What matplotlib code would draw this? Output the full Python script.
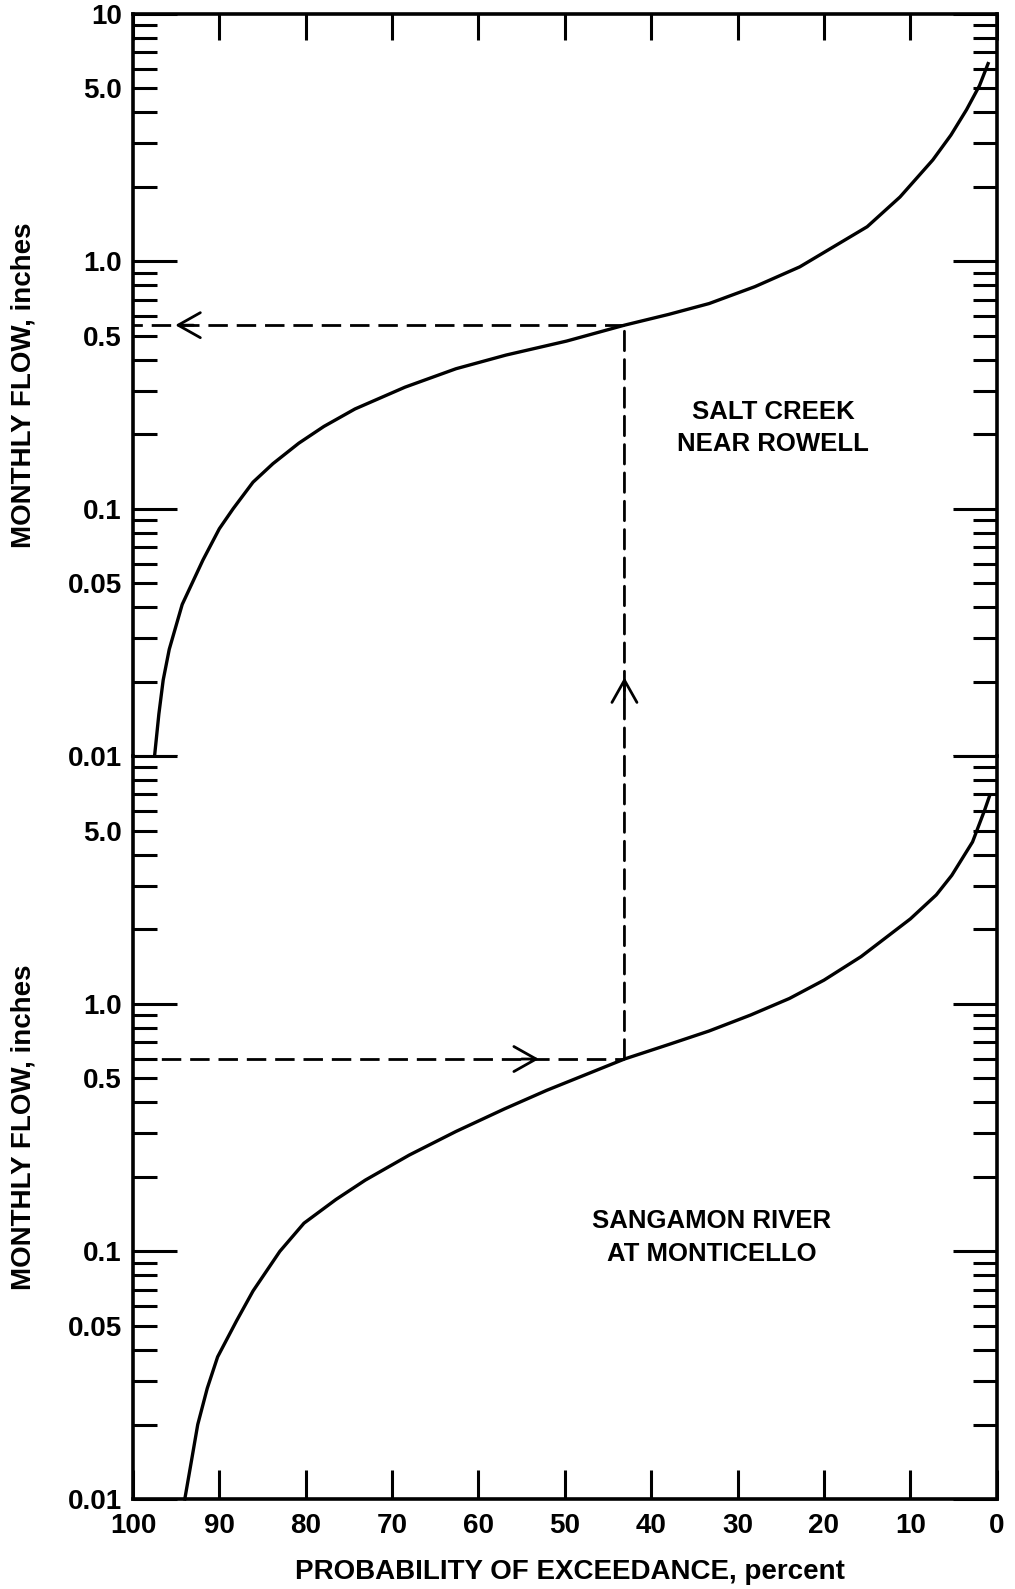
import matplotlib
matplotlib.use('Agg')
import matplotlib.pyplot as plt
from matplotlib.patches import ConnectionPatch
from matplotlib.ticker import NullLocator

plt.rcParams['font.family'] = 'Liberation Sans'
plt.rcParams['font.weight'] = 'bold'
plt.rcParams['axes.labelweight'] = 'bold'

# flow-duration curves, monthly flow (inches) vs. percent of time exceeded
salt_pct = [97.5, 97.0, 96.5, 95.8, 94.3, 91.9, 90.0, 88.4, 86.1, 83.8, 80.8, 77.9,
            74.3, 68.5, 62.6, 56.8, 49.8, 43.1, 38.0, 33.3, 28.0, 22.8, 15.0, 11.2,
            7.4, 5.3, 3.5, 2.0, 1.0]
salt_flow = [0.010, 0.0148, 0.0203, 0.027, 0.041, 0.062, 0.083, 0.100, 0.128, 0.152,
             0.184, 0.215, 0.253, 0.31, 0.368, 0.418, 0.476, 0.552, 0.61, 0.675,
             0.79, 0.95, 1.38, 1.82, 2.57, 3.24, 4.1, 5.13, 6.3]

sang_pct = [94.0, 93.3, 92.5, 91.4, 90.2, 88.0, 86.1, 83.0, 80.2, 76.5, 73.1, 68.0,
            62.6, 57.0, 52.1, 43.1, 38.0, 33.3, 28.5, 24.0, 20.0, 15.7, 10.0, 7.0,
            5.2, 2.8, 1.4, 0.8]
sang_flow = [0.010, 0.0138, 0.020, 0.028, 0.0375, 0.0525, 0.0692, 0.100, 0.130, 0.162,
             0.194, 0.245, 0.305, 0.376, 0.447, 0.598, 0.684, 0.776, 0.90, 1.05,
             1.245, 1.55, 2.2, 2.75, 3.3, 4.5, 6.05, 6.95]

# transfer: same exceedance probability on both stations
transfer_pct = 43.1
sang_transfer_flow = 0.598
salt_transfer_flow = 0.552

x_ticks = [100, 90, 80, 70, 60, 50, 40, 30, 20, 10, 0]
y_major = [0.01, 0.1, 1.0, 10]
y_major_top = ['0.01', '0.1', '1.0', '10']
y_major_bot = ['0.01', '0.1', '1.0', '']
y_minor = [m * d for d in (0.01, 0.1, 1.0) for m in range(2, 10)]
minor_names = {0.05: '0.05', 0.5: '0.5', 5.0: '5.0'}

fig = plt.figure(figsize=(10.15, 15.89), dpi=100)
ax_top = fig.add_axes([0.131, 0.5242, 0.851, 0.467])
ax_bot = fig.add_axes([0.131, 0.0566, 0.851, 0.4676])

lw = 2.4
dash_lw = 2.0
dash = (0, (7, 3.2))

for ax, labels in ((ax_top, y_major_top), (ax_bot, y_major_bot)):
    ax.set_yscale('log')
    ax.set_xlim(100, 0)
    ax.set_ylim(0.01, 10)
    ax.set_yticks(y_major, labels)
    minor_labels = [minor_names.get(round(v, 4), '') for v in y_minor]
    ax.set_yticks(y_minor, minor_labels, minor=True)
    ax.set_xticks(x_ticks, [str(v) for v in x_ticks])
    ax.xaxis.set_minor_locator(NullLocator())
    ax.tick_params(axis='y', which='both', direction='in', left=True, right=True,
                   width=2.2, labelsize=20, pad=8)
    ax.tick_params(axis='y', which='major', length=32)
    ax.tick_params(axis='y', which='minor', length=17)
    for s in ax.spines.values():
        s.set_linewidth(2.6)
    ax.set_ylabel('MONTHLY FLOW, inches', fontsize=20)
    ax.yaxis.set_label_coords(-0.112, 0.5)

ax_top.spines['bottom'].set_visible(False)
ax_bot.spines['top'].set_visible(False)
ax_top.tick_params(axis='x', direction='in', bottom=False, top=True,
                   labelbottom=False, length=19, width=2.2)
ax_bot.tick_params(axis='x', direction='in', bottom=True, top=False,
                   length=21, width=2.2, labelsize=20, pad=10)

ax_top.plot(salt_pct, salt_flow, color='black', lw=lw, clip_on=False)
ax_bot.plot(sang_pct, sang_flow, color='black', lw=lw, clip_on=False)

ax_top.text(25.9, 0.212, 'SALT CREEK\nNEAR ROWELL', ha='center', va='center',
            fontsize=18.5, linespacing=1.4)
ax_bot.text(33.0, 0.114, 'SANGAMON RIVER\nAT MONTICELLO', ha='center', va='center',
            fontsize=18.5, linespacing=1.5)

ax_bot.set_xlabel('PROBABILITY OF EXCEEDANCE, percent', fontsize=20)
ax_bot.xaxis.set_label_coords(0.506, -0.08)

# dashed transfer path: Sangamon flow -> curve -> up to Salt Creek curve -> flow axis
ax_bot.plot([100, transfer_pct], [sang_transfer_flow] * 2, color='black', lw=dash_lw, ls=dash)
ax_top.plot([transfer_pct, 100], [salt_transfer_flow] * 2, color='black', lw=dash_lw, ls=dash)
con = ConnectionPatch(xyA=(transfer_pct, sang_transfer_flow), coordsA=ax_bot.transData,
                      xyB=(transfer_pct, salt_transfer_flow), coordsB=ax_top.transData,
                      color='black', lw=dash_lw, linestyle=dash)
fig.add_artist(con)

head = dict(arrowstyle='->,head_length=0.8,head_width=0.45', lw=dash_lw, color='black',
            mutation_scale=20, shrinkA=0, shrinkB=0)
ax_bot.annotate('', xy=(53.0, sang_transfer_flow), xytext=(55.0, sang_transfer_flow),
                arrowprops=head)
ax_top.annotate('', xy=(transfer_pct, 0.0208), xytext=(transfer_pct, 0.017),
                arrowprops=head)
ax_top.annotate('', xy=(95.1, salt_transfer_flow), xytext=(93.0, salt_transfer_flow),
                arrowprops=head)

fig.savefig('out.png', dpi=100)
